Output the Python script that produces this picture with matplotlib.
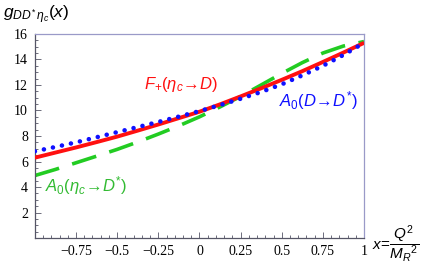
import matplotlib
matplotlib.use("Agg")
from matplotlib import pyplot as plt
from matplotlib.ticker import MultipleLocator

plt.rcParams['mathtext.fontset'] = 'custom'
plt.rcParams['mathtext.rm'] = 'Liberation Sans'
plt.rcParams['mathtext.it'] = 'Liberation Sans:italic'
plt.rcParams['mathtext.bf'] = 'Liberation Sans:bold'

# x = Q^2 / M_R^2
x = [-1, -0.875, -0.75, -0.625, -0.5, -0.375, -0.25, -0.125, 0,
     0.125, 0.25, 0.375, 0.5, 0.625, 0.75, 0.875, 1]
# F+(eta_c -> D)
f_plus = [6.3, 6.7, 7.1, 7.52, 7.95, 8.42, 8.9, 9.4, 9.9,
          10.48, 11.1, 11.74, 12.4, 13.08, 13.8, 14.54, 15.3]
# A0(D -> D*)
a0_dd = [6.8, 7.14, 7.5, 7.9, 8.3, 8.7, 9.1, 9.52, 9.95,
         10.42, 10.92, 11.45, 12.05, 12.75, 13.5, 14.35, 15.3]
# A0(eta_c -> D*)
a0_eta = [4.9, 5.38, 5.9, 6.42, 6.95, 7.53, 8.15, 8.8, 9.5,
          10.28, 11.1, 12.0, 12.9, 13.75, 14.5, 15.05, 15.4]

xticks = [-0.75, -0.5, -0.25, 0, 0.25, 0.5, 0.75, 1]
xtick_labels = ["\u22120.75", "\u22120.5", "\u22120.25", "0", "0.25", "0.5", "0.75", "1"]
yticks = [2, 4, 6, 8, 10, 12, 14, 16]

fig = plt.figure(figsize=(4.36, 2.69), dpi=100)
ax = fig.add_axes([0.080, 0.115, 0.755, 0.759])

frame = "#9a9ac8"
ax.plot(x, a0_eta, color="#22cc22", lw=2.6, dashes=(7, 3.8), zorder=2)
ax.plot(x, f_plus, color="#ff1010", lw=2.8, solid_capstyle="butt", zorder=3)
ax.plot(x, a0_dd, color="#1010ff", lw=3.3, dashes=(0.01, 2.0),
        dash_capstyle="round", zorder=4)

ax.set_xlim(-1, 1)
ax.set_ylim(0, 16)
ax.set_xticks(xticks)
ax.set_xticklabels(xtick_labels)
ax.set_yticks(yticks)
ax.xaxis.set_minor_locator(MultipleLocator(0.05))
ax.yaxis.set_minor_locator(MultipleLocator(0.5))

for s in ax.spines.values():
    s.set_color(frame)
    s.set_linewidth(0.9)
ax.spines['left'].set_color("#555566")
ax.spines['bottom'].set_color("#555566")

ax.tick_params(which="both", direction="in", top=False, right=False,
               color="#555566", width=0.6, pad=5)
ax.tick_params(which="major", length=4)
ax.tick_params(which="minor", length=2)
for lab in ax.get_xticklabels() + ax.get_yticklabels():
    lab.set_fontfamily("Liberation Serif")
    lab.set_fontsize(10)

# curve labels
ax.text(-0.335, 12.0, r"$F_{+}(\eta_c\!\rightarrow\! D)$", color="#ff1010",
        fontsize=12, ha="left", va="center")
ax.text(0.485, 10.8, r"$A_0(D\!\rightarrow\! D^{*})$", color="#1010ff",
        fontsize=12, ha="left", va="center")
ax.text(-0.94, 4.15, r"$A_0(\eta_c\!\rightarrow\! D^{*})$", color="#33bb33",
        fontsize=12, ha="left", va="center")

# axis labels
fig.text(0.008, 0.945, r"$g_{DD^{*}\,\eta_c}(x)$", fontsize=12.5,
         ha="left", va="center")
fig.text(0.853, 0.09, r"$x\!=\!\dfrac{Q^2}{M_R{}^2}$", fontsize=11,
         ha="left", va="center")

fig.savefig("out.png", dpi=100)
